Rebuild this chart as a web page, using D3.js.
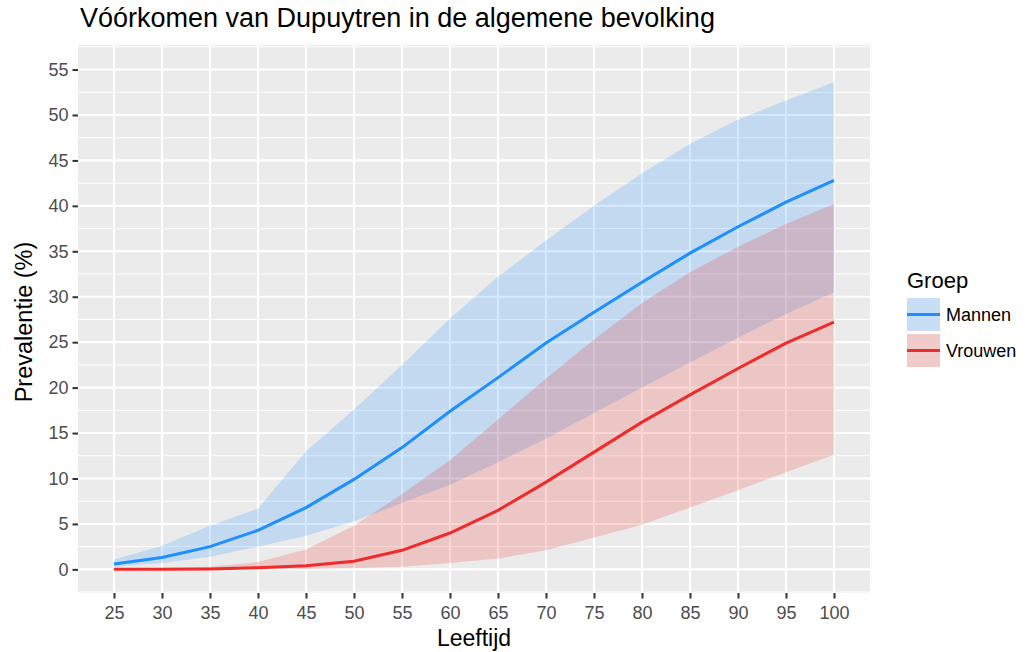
<!DOCTYPE html>
<html>
<head>
<meta charset="utf-8">
<script src="https://cdn.jsdelivr.net/npm/d3@7"></script>
<style>
  body { margin: 0; background: #fff; }
  svg { display: block; font-family: "Liberation Sans", Arial, sans-serif; }
</style>
</head>
<body>
<svg id="chart" width="1026" height="652"></svg>
<script>
// ages on the x axis
const ages = [25, 30, 35, 40, 45, 50, 55, 60, 65, 70, 75, 80, 85, 90, 95, 100];

// prevalence (%)
const mannenMid   = [0.6, 1.3, 2.5, 4.3, 6.8, 9.9, 13.4, 17.4, 21.1, 24.9, 28.3, 31.6, 34.8, 37.7, 40.4, 42.8];
const mannenLow   = [0.3, 0.7, 1.4, 2.5, 3.7, 5.3, 7.3, 9.3, 11.8, 14.4, 17.2, 20.0, 22.8, 25.5, 28.1, 30.5];
const mannenHigh  = [1.1, 2.6, 4.8, 6.7, 13.0, 17.6, 22.5, 27.6, 32.2, 36.2, 40.0, 43.6, 46.8, 49.5, 51.6, 53.6];
const vrouwenMid  = [0.0, 0.0, 0.05, 0.18, 0.4, 0.9, 2.1, 4.0, 6.5, 9.6, 12.9, 16.2, 19.2, 22.1, 24.9, 27.2];
const vrouwenLow  = [0.0, 0.0, 0.0, 0.02, 0.05, 0.15, 0.3, 0.7, 1.2, 2.1, 3.5, 4.9, 6.8, 8.7, 10.7, 12.6];
const vrouwenHigh = [0.1, 0.15, 0.3, 0.8, 2.2, 4.8, 8.3, 12.0, 16.5, 21.0, 25.3, 29.3, 32.7, 35.5, 38.0, 40.2];

const yTicks = [0, 5, 10, 15, 20, 25, 30, 35, 40, 45, 50, 55];

const groups = [
  { name: "Mannen", color: "#1E8FFF", mid: mannenMid, low: mannenLow, high: mannenHigh },
  { name: "Vrouwen", color: "#EE2C2C", mid: vrouwenMid, low: vrouwenLow, high: vrouwenHigh },
];

const svg = d3.select("#chart");
const panel = { left: 78, right: 870, top: 45, bottom: 593 };

const x = d3.scaleLinear().domain([21.25, 103.75]).range([panel.left, panel.right]);
const y = d3.scaleLinear().domain([-2.6, 57.7]).range([panel.bottom, panel.top]);

// panel background
svg.append("rect")
  .attr("x", panel.left).attr("y", panel.top)
  .attr("width", panel.right - panel.left)
  .attr("height", panel.bottom - panel.top)
  .attr("fill", "#EBEBEB");

// minor y grid
const yMinor = d3.range(-2.5, 60, 5).filter((v) => v >= y.domain()[0] && v <= y.domain()[1]);
svg.append("g").selectAll("line")
  .data(yMinor)
  .join("line")
  .attr("x1", panel.left).attr("x2", panel.right)
  .attr("y1", (d) => y(d)).attr("y2", (d) => y(d))
  .attr("stroke", "#fff").attr("stroke-width", 1);

// major grid
svg.append("g").selectAll("line")
  .data(yTicks)
  .join("line")
  .attr("x1", panel.left).attr("x2", panel.right)
  .attr("y1", (d) => y(d)).attr("y2", (d) => y(d))
  .attr("stroke", "#fff").attr("stroke-width", 2.1);

svg.append("g").selectAll("line")
  .data(ages)
  .join("line")
  .attr("y1", panel.top).attr("y2", panel.bottom)
  .attr("x1", (d) => x(d)).attr("x2", (d) => x(d))
  .attr("stroke", "#fff").attr("stroke-width", 2.1);

// ribbons
const area = d3.area()
  .x((d) => x(d.age))
  .y0((d) => y(d.low))
  .y1((d) => y(d.high));

const line = d3.line()
  .x((d) => x(d.age))
  .y((d) => y(d.mid));

groups.forEach((g) => {
  g.rows = ages.map((a, i) => ({ age: a, mid: g.mid[i], low: g.low[i], high: g.high[i] }));
});

svg.append("g").selectAll("path")
  .data(groups)
  .join("path")
  .attr("d", (g) => area(g.rows))
  .attr("fill", (g) => g.color)
  .attr("fill-opacity", 0.2);

svg.append("g").selectAll("path")
  .data(groups)
  .join("path")
  .attr("d", (g) => line(g.rows))
  .attr("fill", "none")
  .attr("stroke", (g) => g.color)
  .attr("stroke-width", 3);

// x axis
const xAxis = svg.append("g")
  .attr("transform", `translate(0,${panel.bottom})`)
  .call(d3.axisBottom(x).tickValues(ages).tickSize(5.5).tickPadding(3));
// y axis
const yAxis = svg.append("g")
  .attr("transform", `translate(${panel.left},0)`)
  .call(d3.axisLeft(y).tickValues(yTicks).tickSize(5.5).tickPadding(4));

[xAxis, yAxis].forEach((ax) => {
  ax.select(".domain").remove();
  ax.selectAll(".tick line").attr("stroke", "#333333").attr("stroke-width", 2);
  ax.selectAll(".tick text")
    .attr("fill", "#4D4D4D")
    .style("font-size", "18px")
    .style("font-family", "'Liberation Sans', Arial, sans-serif");
});
xAxis.selectAll(".tick text").attr("dy", "0.95em");

// titles
svg.append("text")
  .attr("x", panel.left + 2).attr("y", 27)
  .style("font-size", "27px")
  .attr("fill", "#000")
  .text("Vóórkomen van Dupuytren in de algemene bevolking");

svg.append("text")
  .attr("x", (panel.left + panel.right) / 2).attr("y", 646)
  .attr("text-anchor", "middle")
  .style("font-size", "23px")
  .text("Leeftijd");

svg.append("text")
  .attr("transform", `translate(32,${(panel.top + panel.bottom) / 2 + 3}) rotate(-90)`)
  .attr("text-anchor", "middle")
  .style("font-size", "23.5px")
  .text("Prevalentie (%)");

// legend
const legend = svg.append("g").attr("transform", "translate(907,0)");
legend.append("text")
  .attr("x", 0).attr("y", 288)
  .style("font-size", "22px")
  .text("Groep");

const keys = legend.selectAll("g.key")
  .data(groups)
  .join("g")
  .attr("class", "key")
  .attr("transform", (d, i) => `translate(0,${298 + i * 36})`);

keys.append("rect")
  .attr("width", 33).attr("height", 33)
  .attr("fill", "#F2F2F2");
keys.append("rect")
  .attr("width", 33).attr("height", 33)
  .attr("fill", (d) => d.color)
  .attr("fill-opacity", 0.2);
keys.append("line")
  .attr("x1", 0).attr("x2", 33)
  .attr("y1", 16.5).attr("y2", 16.5)
  .attr("stroke", (d) => d.color)
  .attr("stroke-width", 3);
keys.append("text")
  .attr("x", 39).attr("y", 23)
  .style("font-size", "18px")
  .text((d) => d.name);
</script>
</body>
</html>
